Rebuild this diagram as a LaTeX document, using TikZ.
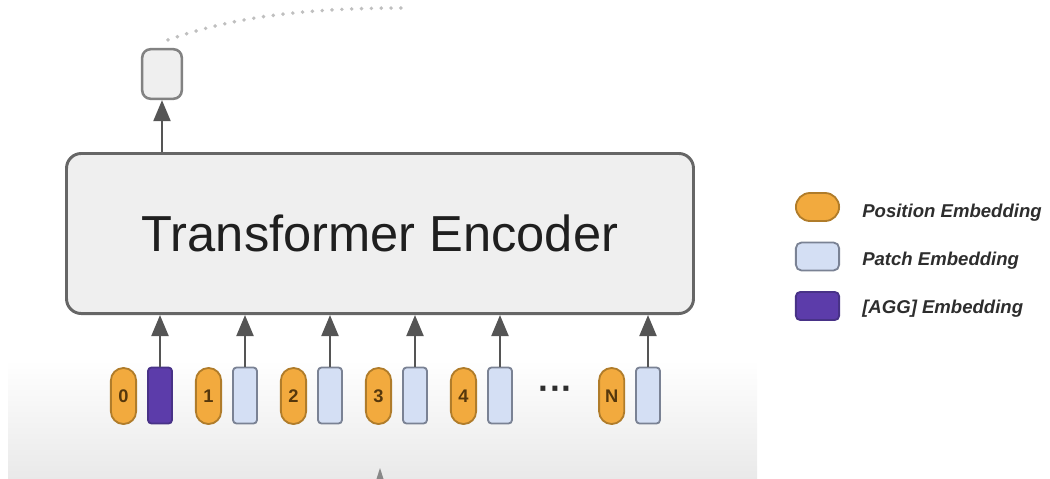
\documentclass[tikz,border=0pt]{standalone}
\usepackage{fontspec}
\setmainfont{Liberation Sans}
\usetikzlibrary{arrows.meta}

\definecolor{posorange}{RGB}{242,170,62}
\definecolor{posborder}{RGB}{176,124,42}
\definecolor{posnum}{RGB}{85,55,12}
\definecolor{patchblue}{RGB}{212,223,244}
\definecolor{patchborder}{RGB}{122,130,148}
\definecolor{aggpurple}{RGB}{92,60,170}
\definecolor{aggborder}{RGB}{72,50,135}
\definecolor{encfill}{RGB}{239,239,239}
\definecolor{encborder}{RGB}{102,102,102}
\definecolor{outborder}{RGB}{130,130,130}
\definecolor{arrowgray}{RGB}{85,85,85}
\definecolor{legendtext}{RGB}{45,45,45}
\definecolor{bgshade}{RGB}{233,233,233}

\begin{document}
\begin{tikzpicture}[x=0.025cm,y=-0.025cm,
	posemb/.style={rectangle,rounded corners=8.9pt,minimum width=0.63cm,minimum height=1.4cm,inner sep=0pt,fill=posorange,draw=posborder,line width=1.3pt,text=posnum,font=\bfseries\fontsize{13}{13}\selectfont},
	patchemb/.style={rectangle,rounded corners=2.5pt,minimum width=0.6cm,minimum height=1.4cm,inner sep=0pt,fill=patchblue,draw=patchborder,line width=1.3pt},
	aggemb/.style={patchemb,fill=aggpurple,draw=aggborder},
	encbox/.style={rectangle,rounded corners=10.5pt,minimum width=15.67cm,minimum height=4cm,fill=encfill,draw=encborder,line width=2.1pt,text={black!88},font=\fontsize{36}{36}\selectfont},
	outbox/.style={rectangle,rounded corners=6pt,minimum width=0.99cm,minimum height=1.24cm,inner sep=0pt,fill=encfill,draw=outborder,line width=1.8pt},
	arr/.style={draw=arrowgray,line width=1.9pt,-{Triangle[length=15pt,width=12pt]}},
	legendtxt/.style={anchor=base west,inner sep=0pt,text=legendtext,font=\bfseries\itshape\fontsize{13.2}{13.2}\selectfont}]
	\useasboundingbox (0,0) rectangle (1050,479);
	\shade[top color=white,bottom color=bgshade] (8,360) rectangle (757,479);

	\draw[] (380,233.5) node[encbox] (enc) {Transformer Encoder};
	\draw[] (162,74) node[outbox] (out) {};

	% tokens
	\draw[] (123.5,396) node[posemb] (p0) {0};
	\draw[] (160,395.5) node[aggemb] (e0) {};
	\draw[] (208.5,396) node[posemb] (p1) {1};
	\draw[] (245,395.5) node[patchemb] (e1) {};
	\draw[] (293.5,396) node[posemb] (p2) {2};
	\draw[] (330,395.5) node[patchemb] (e2) {};
	\draw[] (378.5,396) node[posemb] (p3) {3};
	\draw[] (415,395.5) node[patchemb] (e3) {};
	\draw[] (463.5,396) node[posemb] (p4) {4};
	\draw[] (500,395.5) node[patchemb] (e4) {};
	\draw[] (556,393) node[inner sep=0pt,text=legendtext,font=\bfseries\fontsize{25}{25}\selectfont] (dots) {···};
	\draw[] (611.7,396) node[posemb] (pn) {N};
	\draw[] (648,395.5) node[patchemb] (en) {};

	\draw[arr] (e0.north) -- (e0.north |- enc.south);
	\draw[arr] (e1.north) -- (e1.north |- enc.south);
	\draw[arr] (e2.north) -- (e2.north |- enc.south);
	\draw[arr] (e3.north) -- (e3.north |- enc.south);
	\draw[arr] (e4.north) -- (e4.north |- enc.south);
	\draw[arr] (en.north) -- (en.north |- enc.south);
	\draw[arr] (out.south |- enc.north) -- (out.south);

	\coordinate (fadeend) at (405,8);
	\draw[dash pattern=on 0pt off 7pt,line width=2.8pt,gray!50,line cap=round] ([shift={(6,-8)}]out.north) .. controls (235,16) and (310,8) .. (fadeend);

	\coordinate (below) at (380,479);
	\fill[arrowgray!70] (below) -- ++(-3.5,0) -- (380,468) -- (383.5,479) -- cycle;

	% legend
	\draw[] (817.5,207) node[posemb,rounded corners=10pt,minimum width=1.08cm,minimum height=0.7cm] (lpos) {};
	\draw[] (817.5,256.5) node[patchemb,rounded corners=4pt,minimum width=1.08cm,minimum height=0.7cm] (lpatch) {};
	\draw[] (817.5,306) node[aggemb,rounded corners=3pt,minimum width=1.08cm,minimum height=0.7cm] (lagg) {};
	\draw[] (862,217) node[legendtxt] (tpos) {Position Embedding};
	\draw[] (862,265) node[legendtxt] (tpatch) {Patch Embedding};
	\draw[] (862,313) node[legendtxt] (tagg) {[AGG] Embedding};
\end{tikzpicture}
\end{document}
